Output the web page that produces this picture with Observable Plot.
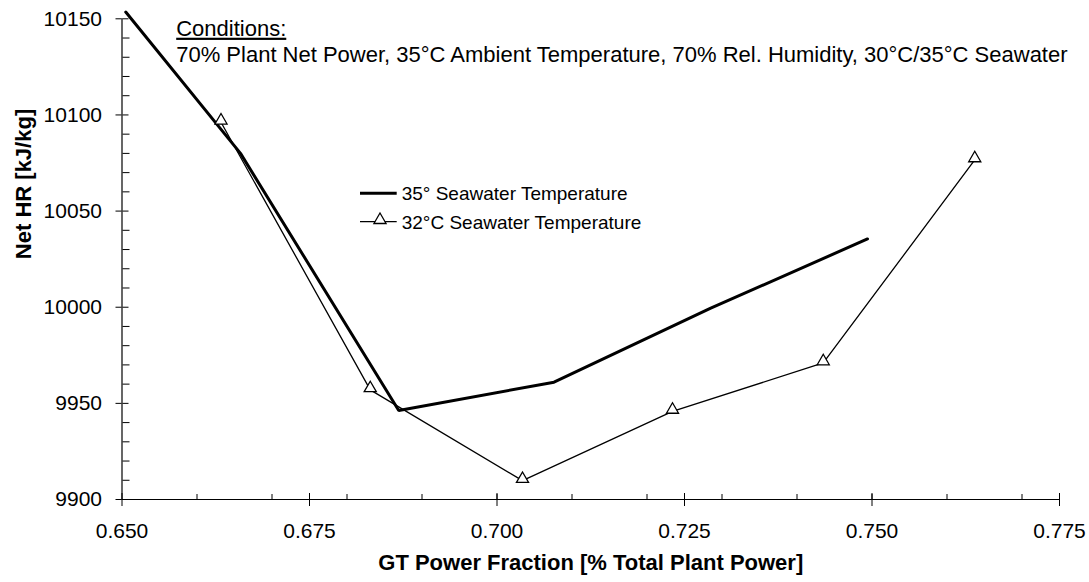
<!DOCTYPE html>
<html>
<head>
<meta charset="utf-8">
<script src="https://cdn.jsdelivr.net/npm/d3@7"></script>
<script src="https://cdn.jsdelivr.net/npm/@observablehq/plot@0.6"></script>
<style>
  html, body { margin: 0; padding: 0; background: #fff; }
</style>
</head>
<body>
<div id="chart"></div>
<script>
// ---- Data ----
const xTicks = [0.650, 0.675, 0.700, 0.725, 0.750, 0.775];
const xMinorTicks = [0.66, 0.67, 0.68, 0.69, 0.70, 0.71, 0.72, 0.73, 0.74, 0.75, 0.76, 0.77];
const yTicks = [9900, 9950, 10000, 10050, 10100, 10150];
const yMinorTicks = [9910, 9920, 9930, 9940, 9960, 9970, 9980, 9990, 10010, 10020, 10030, 10040, 10060, 10070, 10080, 10090, 10110, 10120, 10130, 10140];

// 35° seawater temperature (thick line, no markers)
const sw35X = [0.6505, 0.6658, 0.6869, 0.7076, 0.7285, 0.7494];
const sw35Y = [10153.5, 10080, 9946.3, 9961, 9999.5, 10035.5];

// 32°C seawater temperature (thin line, triangle markers)
const sw32X = [0.6632, 0.6831, 0.7034, 0.7234, 0.7435, 0.7637];
const sw32Y = [10096.2, 9957, 9909.8, 9945.8, 9971, 10076.6];

const seriesNames = ["35° Seawater Temperature", "32°C Seawater Temperature"];
const xTitle = "GT Power Fraction [% Total Plant Power]";
const yTitle = "Net HR [kJ/kg]";
const conditionsTitle = "Conditions:";
const conditionsText = "70% Plant Net Power, 35°C Ambient Temperature, 70% Rel. Humidity, 30°C/35°C Seawater";

const sw35 = sw35X.map((x, i) => ({x, y: sw35Y[i]}));
const sw32 = sw32X.map((x, i) => ({x, y: sw32Y[i]}));

const FONT = "Arial, 'Liberation Sans', sans-serif";
const empty = () => "";

const svg = Plot.plot({
  width: 1089,
  height: 582,
  marginLeft: 121.5,
  marginRight: 30,
  marginTop: 18.3,
  marginBottom: 83,
  style: {fontFamily: FONT, fontSize: "21px", background: "white", color: "black"},
  x: {domain: [0.65, 0.775]},
  y: {domain: [9900, 10150]},
  marks: [
    // axis baselines
    Plot.ruleY([9900], {stroke: "black", strokeWidth: 1.2}),
    Plot.ruleX([0.65], {stroke: "black", strokeWidth: 1.2}),
    // x axis: inward minor and major ticks, outward major ticks with labels
    Plot.axisX(xMinorTicks, {anchor: "top", frameAnchor: "bottom", tickSize: 6, tickFormat: empty, label: null}),
    Plot.axisX(xTicks, {anchor: "top", frameAnchor: "bottom", tickSize: 7, tickFormat: empty, label: null}),
    Plot.axisX(xTicks, {anchor: "bottom", tickSize: 7, tickPadding: 17, tickFormat: d3.format(".3f"), fontSize: 21, label: null}),
    // y axis
    Plot.axisY(yMinorTicks, {anchor: "right", frameAnchor: "left", tickSize: 7, tickFormat: empty, label: null}),
    Plot.axisY(yTicks, {anchor: "right", frameAnchor: "left", tickSize: 6, tickFormat: empty, label: null}),
    Plot.axisY(yTicks, {anchor: "left", tickSize: 6, tickPadding: 14, tickFormat: d3.format("d"), fontSize: 21, label: null}),
    // series
    Plot.line(sw35, {x: "x", y: "y", stroke: "black", strokeWidth: 3, strokeLinejoin: "miter"}),
    Plot.line(sw32, {x: "x", y: "y", stroke: "black", strokeWidth: 1.3, strokeLinejoin: "miter"}),
    Plot.dot(sw32, {x: "x", y: "y", symbol: "triangle", r: 4.5, fill: "white", stroke: "black", strokeWidth: 1.3, dy: -1.7}),
    // titles
    Plot.text([xTitle], {text: d => d, frameAnchor: "bottom", dy: 70.5, fontWeight: "bold", fontSize: 22, fill: "black"}),
    Plot.text([yTitle], {text: d => d, frameAnchor: "left", dx: -98, rotate: -90, fontWeight: "bold", fontSize: 22, fill: "black"}),
    // conditions annotation
    Plot.text([conditionsTitle], {text: d => d, frameAnchor: "top-left", dx: 54.2, dy: 1.3, textAnchor: "start", fontSize: 22, fill: "black"}),
    Plot.text([conditionsText], {text: d => d, frameAnchor: "top-left", dx: 54.2, dy: 27.9, textAnchor: "start", fontSize: 22, fill: "black"})
  ]
});

document.getElementById("chart").appendChild(svg);

// underline "Conditions:"
d3.select(svg).selectAll("text")
  .filter(function() { return this.textContent === conditionsTitle; })
  .style("text-decoration", "underline");

// legend
const lg = d3.select(svg).append("g")
  .attr("font-family", FONT).attr("font-size", 19).attr("fill", "black")
  .attr("text-anchor", "start");
lg.append("line").attr("x1", 360).attr("x2", 396.7).attr("y1", 193.3).attr("y2", 193.3)
  .attr("stroke", "black").attr("stroke-width", 3);
lg.append("text").attr("x", 401.7).attr("y", 200.3).attr("text-anchor", "start").text(seriesNames[0]);
lg.append("line").attr("x1", 360).attr("x2", 396.7).attr("y1", 221.7).attr("y2", 221.7)
  .attr("stroke", "black").attr("stroke-width", 1.3);
lg.append("path").attr("d", d3.symbol(d3.symbolTriangle, Math.PI * 4.5 * 4.5)())
  .attr("transform", "translate(380,220)")
  .attr("fill", "white").attr("stroke", "black").attr("stroke-width", 1.3);
lg.append("text").attr("x", 401.7).attr("y", 228.7).attr("text-anchor", "start").text(seriesNames[1]);
</script>
</body>
</html>
